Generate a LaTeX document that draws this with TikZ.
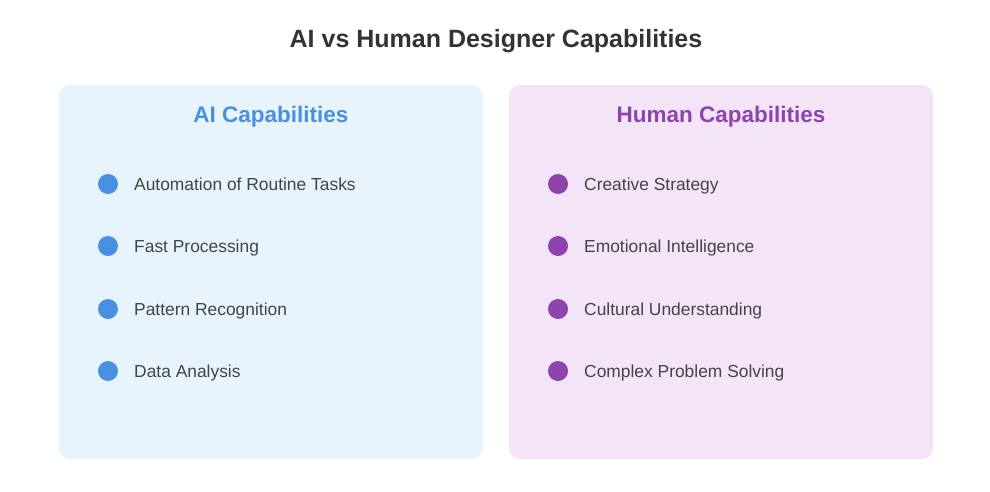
\documentclass[tikz,border=0pt]{standalone}
\usepackage{fontspec}
\setmainfont{Liberation Sans}
\definecolor{aiblue}{HTML}{4A90E2}
\definecolor{hpurple}{HTML}{8E44AD}
\definecolor{aibg}{HTML}{E8F4FD}
\definecolor{hbg}{HTML}{F4E4F8}
\definecolor{txt}{HTML}{333333}
\definecolor{itemtxt}{HTML}{444444}
\begin{document}
\begin{tikzpicture}[x=1pt,y=-1pt,
  panel/.style={rounded corners=11pt, draw=none},
  dot/.style={circle, minimum size=20pt, inner sep=0pt},
  item/.style={anchor=base west, inner sep=0pt, text=itemtxt, font=\fontsize{17.4}{19}\selectfont},
  head/.style={anchor=base, font=\fontsize{22.5}{25}\selectfont\bfseries},
]
\useasboundingbox (0,0) rectangle (990,491);
\fill[white] (0,0) rectangle (990,491);
\node[anchor=base, font=\fontsize{25}{28}\selectfont\bfseries, text=txt] (title) at (496,47) {AI vs Human Designer Capabilities};
\fill[aibg, panel] (59,85) rectangle (483,459);
\fill[hbg, panel] (509,85) rectangle (933,459);
\node[head, text=aiblue] (aih) at (271,122) {AI Capabilities};
\node[head, text=hpurple] (hh) at (721,122) {Human Capabilities};
\foreach \y/\t [count=\i] in {184/Automation of Routine Tasks, 246/Fast Processing, 309/Pattern Recognition, 371/Data Analysis}{
  \node[dot, fill=aiblue] (ad\i) at (108,\y) {};
  \node[item] (at\i) at (134,\y+6) {\t};
}
\foreach \y/\t [count=\i] in {184/Creative Strategy, 246/Emotional Intelligence, 309/Cultural Understanding, 371/Complex Problem Solving}{
  \node[dot, fill=hpurple] (hd\i) at (558,\y) {};
  \node[item] (ht\i) at (584,\y+6) {\t};
}
\end{tikzpicture}
\end{document}
